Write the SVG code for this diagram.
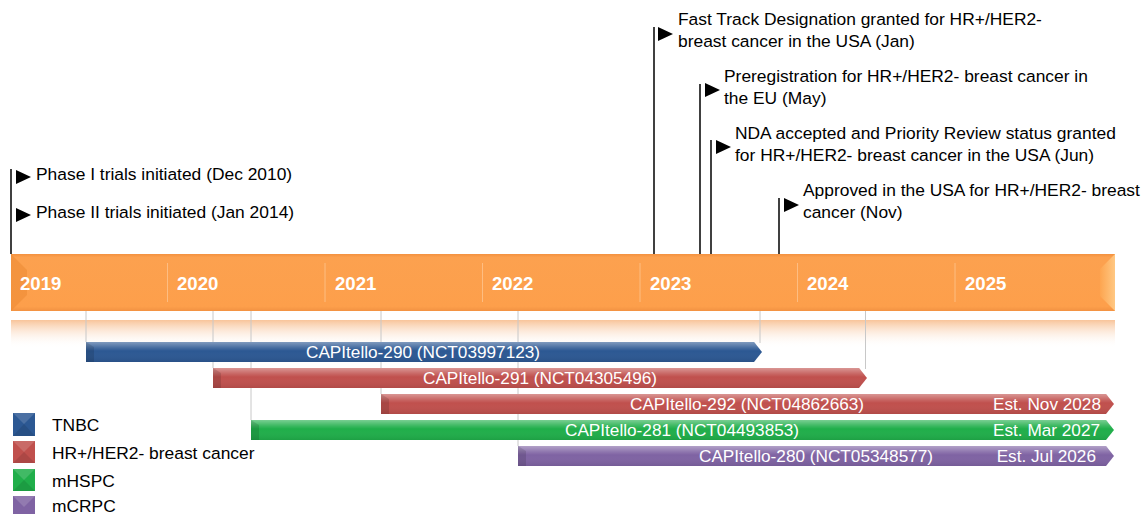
<svg xmlns="http://www.w3.org/2000/svg" width="1142" height="514" viewBox="0 0 1142 514">
  <defs>
    <linearGradient id="band" x1="0" y1="0" x2="0" y2="1">
      <stop offset="0" stop-color="#f3913f"/>
      <stop offset="0.06" stop-color="#fca14f"/>
      <stop offset="0.92" stop-color="#fd9f4b"/>
      <stop offset="1" stop-color="#f29242"/>
    </linearGradient>
    <linearGradient id="bandEnd" x1="0" y1="0" x2="1" y2="0">
      <stop offset="0" stop-color="#fda550"/>
      <stop offset="1" stop-color="#ffc883"/>
    </linearGradient>
    <linearGradient id="reflect" x1="0" y1="0" x2="0" y2="1">
      <stop offset="0" stop-color="#f8c49a"/>
      <stop offset="1" stop-color="#ffffff" stop-opacity="0"/>
    </linearGradient>
    <linearGradient id="gloss" x1="0" y1="0" x2="0" y2="1">
      <stop offset="0" stop-color="#ffffff" stop-opacity="0.4"/>
      <stop offset="0.3" stop-color="#ffffff" stop-opacity="0.12"/>
      <stop offset="0.45" stop-color="#ffffff" stop-opacity="0"/>
      <stop offset="1" stop-color="#000000" stop-opacity="0.08"/>
    </linearGradient>
    <style>
      .year { font-family: "Liberation Sans", Arial, sans-serif; font-size: 18.6px; font-weight: bold; fill: #ffffff; }
      .divider { stroke: #ffc58f; stroke-width: 1; opacity: 0.8; }
      .label { font-family: "Liberation Sans", Arial, sans-serif; font-size: 17.4px; fill: #000000; }
      .bartext { font-family: "Liberation Sans", Arial, sans-serif; font-size: 17.2px; fill: #ffffff; }
      .stem { stroke: #000000; stroke-width: 1.5; fill: none; }
      .guide { stroke: #c8c8c8; stroke-width: 1; fill: none; }
      .flag { fill: #000000; }
      .bevel { fill: #000000; opacity: 0.12; }
      .blue { fill: #2c5893; }
      .red { fill: #c0504d; }
      .green { fill: #20ae4a; }
      .purple { fill: #7f63a3; }
    </style>
  </defs>

  <rect width="1142" height="514" fill="#ffffff"/>

  <!-- timeline band -->
  <g id="timeline">
    <rect x="11" y="320" width="1104" height="28" fill="url(#reflect)"/>
    <rect x="11" y="254" width="1104" height="57" fill="url(#band)"/>
    <polygon points="11,254 27,270 27,295 11,311" fill="#e8842f" opacity="0.45"/>
    <polygon points="1115,254 1100,269 1100,296 1115,311" fill="url(#bandEnd)"/>
    <line class="divider" x1="167.5" y1="263" x2="167.5" y2="302"/>
    <line class="divider" x1="325" y1="263" x2="325" y2="302"/>
    <line class="divider" x1="482.5" y1="263" x2="482.5" y2="302"/>
    <line class="divider" x1="640" y1="263" x2="640" y2="302"/>
    <line class="divider" x1="797.5" y1="263" x2="797.5" y2="302"/>
    <line class="divider" x1="955" y1="263" x2="955" y2="302"/>
    <text class="year" x="20" y="290">2019</text>
    <text class="year" x="177" y="290">2020</text>
    <text class="year" x="335" y="290">2021</text>
    <text class="year" x="492" y="290">2022</text>
    <text class="year" x="650" y="290">2023</text>
    <text class="year" x="807" y="290">2024</text>
    <text class="year" x="965" y="290">2025</text>
  </g>

  <!-- milestone stems and trial guide lines -->
  <g id="connectors">
    <line class="stem" x1="11" y1="169" x2="11" y2="254"/>
    <line class="stem" x1="654" y1="27" x2="654" y2="254"/>
    <line class="stem" x1="700" y1="84" x2="700" y2="254"/>
    <line class="stem" x1="711" y1="140" x2="711" y2="254"/>
    <line class="stem" x1="779" y1="198" x2="779" y2="254"/>
    <line class="guide" x1="86" y1="311" x2="86" y2="342"/>
    <line class="guide" x1="213" y1="311" x2="213" y2="368"/>
    <line class="guide" x1="251" y1="311" x2="251" y2="420"/>
    <line class="guide" x1="381" y1="311" x2="381" y2="394"/>
    <line class="guide" x1="518" y1="311" x2="518" y2="446"/>
    <line class="guide" x1="760" y1="311" x2="760" y2="343"/>
    <line class="guide" x1="865.5" y1="311" x2="865.5" y2="369"/>
  </g>

  <!-- milestones -->
  <g id="m-phase1">
    <polygon class="flag" points="16,170 31,177 16,184"/>
    <text class="label" x="36" y="180">Phase I trials initiated (Dec 2010)</text>
  </g>
  <g id="m-phase2">
    <polygon class="flag" points="16,208 31,215 16,222"/>
    <text class="label" x="36" y="218">Phase II trials initiated (Jan 2014)</text>
  </g>
  <g id="m-fasttrack">
    <polygon class="flag" points="658,27 673,34 658,41"/>
    <text class="label" x="678" y="25">Fast Track Designation granted for HR+/HER2-</text>
    <text class="label" x="678" y="47">breast cancer in the USA (Jan)</text>
  </g>
  <g id="m-prereg">
    <polygon class="flag" points="705,83 720,90 705,97"/>
    <text class="label" x="724" y="82">Preregistration for HR+/HER2- breast cancer in</text>
    <text class="label" x="724" y="104">the EU (May)</text>
  </g>
  <g id="m-nda">
    <polygon class="flag" points="716,140 731,147 716,154"/>
    <text class="label" x="735" y="139">NDA accepted and Priority Review status granted</text>
    <text class="label" x="735" y="161">for HR+/HER2- breast cancer in the USA (Jun)</text>
  </g>
  <g id="m-approved">
    <polygon class="flag" points="784,198 799,205 784,212"/>
    <text class="label" x="803" y="196">Approved in the USA for HR+/HER2- breast</text>
    <text class="label" x="803" y="218">cancer (Nov)</text>
  </g>

  <!-- trial bars -->
  <g id="capitello-290">
    <polygon class="blue" points="86,342 754,342 762,352 754,362 86,362"/>
    <polygon fill="url(#gloss)" points="86,342 754,342 762,352 754,362 86,362"/>
    <polygon class="bevel" points="86,342 94,347 94,362 86,362"/>
    <text class="bartext" x="423" y="358" text-anchor="middle">CAPItello-290 (NCT03997123)</text>
  </g>
  <g id="capitello-291">
    <polygon class="red" points="213,368 859,368 867,378 859,388 213,388"/>
    <polygon fill="url(#gloss)" points="213,368 859,368 867,378 859,388 213,388"/>
    <polygon class="bevel" points="213,368 221,373 221,388 213,388"/>
    <text class="bartext" x="540" y="384" text-anchor="middle">CAPItello-291 (NCT04305496)</text>
  </g>
  <g id="capitello-292">
    <polygon class="red" points="381,394 1106,394 1114,404 1106,414 381,414"/>
    <polygon fill="url(#gloss)" points="381,394 1106,394 1114,404 1106,414 381,414"/>
    <polygon class="bevel" points="381,394 389,399 389,414 381,414"/>
    <text class="bartext" x="747" y="410" text-anchor="middle">CAPItello-292 (NCT04862663)</text>
    <text class="bartext" x="1101" y="410" text-anchor="end">Est. Nov 2028</text>
  </g>
  <g id="capitello-281">
    <polygon class="green" points="251,420 1106,420 1114,430 1106,440 251,440"/>
    <polygon fill="url(#gloss)" points="251,420 1106,420 1114,430 1106,440 251,440"/>
    <polygon class="bevel" points="251,420 259,425 259,440 251,440"/>
    <text class="bartext" x="682" y="436" text-anchor="middle">CAPItello-281 (NCT04493853)</text>
    <text class="bartext" x="1100" y="436" text-anchor="end">Est. Mar 2027</text>
  </g>
  <g id="capitello-280">
    <polygon class="purple" points="518,446 1106,446 1114,456 1106,466 518,466"/>
    <polygon fill="url(#gloss)" points="518,446 1106,446 1114,456 1106,466 518,466"/>
    <polygon class="bevel" points="518,446 526,451 526,466 518,466"/>
    <text class="bartext" x="816" y="462" text-anchor="middle">CAPItello-280 (NCT05348577)</text>
    <text class="bartext" x="1096" y="462" text-anchor="end">Est. Jul 2026</text>
  </g>

  <!-- legend -->
  <g id="legend-tnbc">
    <rect class="blue" x="13" y="413" width="22" height="23"/>
    <polygon points="13,413 35,413 24,424" fill="#ffffff" opacity="0.15"/>
    <polygon points="13,436 35,436 24,424" fill="#000000" opacity="0.1"/>
    <text class="label" x="52" y="431">TNBC</text>
  </g>
  <g id="legend-hr">
    <rect class="red" x="13" y="441" width="22" height="22"/>
    <polygon points="13,441 35,441 24,452" fill="#ffffff" opacity="0.15"/>
    <polygon points="13,463 35,463 24,452" fill="#000000" opacity="0.1"/>
    <text class="label" x="52" y="459">HR+/HER2- breast cancer</text>
  </g>
  <g id="legend-mhspc">
    <rect class="green" x="13" y="469" width="22" height="22"/>
    <polygon points="13,469 35,469 24,480" fill="#ffffff" opacity="0.15"/>
    <polygon points="13,491 35,491 24,480" fill="#000000" opacity="0.1"/>
    <text class="label" x="52" y="487">mHSPC</text>
  </g>
  <g id="legend-mcrpc">
    <rect class="purple" x="13" y="496" width="22" height="22"/>
    <polygon points="13,496 35,496 24,507" fill="#ffffff" opacity="0.15"/>
    <text class="label" x="52" y="512">mCRPC</text>
  </g>
</svg>
